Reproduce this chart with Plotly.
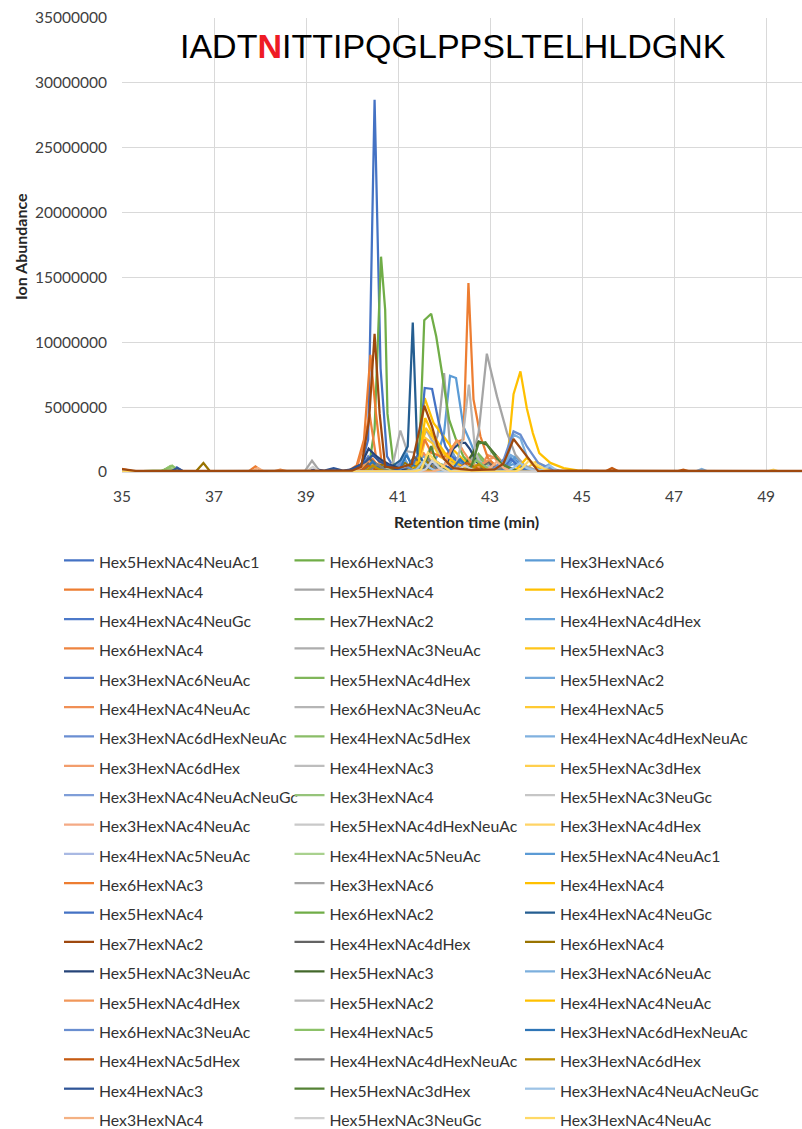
import plotly.graph_objects as go

# ---------------- legend labels (legend order, row by row) ----------------
NAMES = [
    "Hex5HexNAc4NeuAc1", "Hex6HexNAc3", "Hex3HexNAc6",
    "Hex4HexNAc4", "Hex5HexNAc4", "Hex6HexNAc2",
    "Hex4HexNAc4NeuGc", "Hex7HexNAc2", "Hex4HexNAc4dHex",
    "Hex6HexNAc4", "Hex5HexNAc3NeuAc", "Hex5HexNAc3",
    "Hex3HexNAc6NeuAc", "Hex5HexNAc4dHex", "Hex5HexNAc2",
    "Hex4HexNAc4NeuAc", "Hex6HexNAc3NeuAc", "Hex4HexNAc5",
    "Hex3HexNAc6dHexNeuAc", "Hex4HexNAc5dHex", "Hex4HexNAc4dHexNeuAc",
    "Hex3HexNAc6dHex", "Hex4HexNAc3", "Hex5HexNAc3dHex",
    "Hex3HexNAc4NeuAcNeuGc", "Hex3HexNAc4", "Hex5HexNAc3NeuGc",
    "Hex3HexNAc4NeuAc", "Hex5HexNAc4dHexNeuAc", "Hex3HexNAc4dHex",
    "Hex4HexNAc5NeuAc", "Hex4HexNAc5NeuAc", "Hex5HexNAc4NeuAc1",
    "Hex6HexNAc3", "Hex3HexNAc6", "Hex4HexNAc4",
    "Hex5HexNAc4", "Hex6HexNAc2", "Hex4HexNAc4NeuGc",
    "Hex7HexNAc2", "Hex4HexNAc4dHex", "Hex6HexNAc4",
    "Hex5HexNAc3NeuAc", "Hex5HexNAc3", "Hex3HexNAc6NeuAc",
    "Hex5HexNAc4dHex", "Hex5HexNAc2", "Hex4HexNAc4NeuAc",
    "Hex6HexNAc3NeuAc", "Hex4HexNAc5", "Hex3HexNAc6dHexNeuAc",
    "Hex4HexNAc5dHex", "Hex4HexNAc4dHexNeuAc", "Hex3HexNAc6dHex",
    "Hex4HexNAc3", "Hex5HexNAc3dHex", "Hex3HexNAc4NeuAcNeuGc",
    "Hex3HexNAc4", "Hex5HexNAc3NeuGc", "Hex3HexNAc4NeuAc",
]

COLORS = [
    "#4472C4", "#70AD47", "#5B9BD5",
    "#ED7D31", "#A5A5A5", "#FFC000",
    "#4C79C9", "#78B04E", "#66A2D9",
    "#EE8440", "#ADADAD", "#FFC51A",
    "#5781CD", "#80B65A", "#73A9DC",
    "#F08F55", "#B5B5B5", "#FFCA33",
    "#6A8ED2", "#8ABD67", "#80B1DF",
    "#F29D6C", "#BDBDBD", "#FFCF4D",
    "#7F9ED8", "#96C47A", "#C6C6C6",
    "#F4AA85", "#C9C9C9", "#FFD466",
    "#A9B9E3", "#A9D18E", "#5B9BD5",
    "#ED7D31", "#A5A5A5", "#FFC000",
    "#4472C4", "#70AD47", "#255E91",
    "#9E480E", "#636363", "#997300",
    "#264478", "#43682B", "#7CAFDD",
    "#F1975A", "#B7B7B7", "#FFC000",
    "#698ED0", "#8CC168", "#2E75B6",
    "#C55A11", "#7F7F7F", "#BF9000",
    "#2F5597", "#548235", "#9DC3E6",
    "#F4B183", "#D0D0D0", "#FFD966",
]

# ---------------- data: retention time (min) / ion abundance (millions) ----------------
rt_00 = [35, 36.05, 36.19, 36.33, 39.45, 39.6, 39.75, 40.05, 40.2, 40.35, 40.49, 40.62, 40.76, 40.9, 41.05, 41.9, 42.05, 42.2, 44.0, 49.78]
ab_00 = [0.05, 0.05, 0.36, 0.05, 0.05, 0.15, 0.05, 0.1, 0.5, 2.5, 28.7, 8.0, 1.2, 0.4, 0.15, 0.1, 0.3, 0.1, 0.05, 0.05]
rt_01 = [35, 35.9, 36.05, 36.2, 40.2, 40.37, 40.49, 40.63, 40.72, 40.77, 40.9, 41.1, 41.25, 49.78]
ab_01 = [0.02, 0.1, 0.45, 0.05, 0.05, 0.5, 3.3, 16.6, 12.5, 4.5, 0.6, 0.2, 0.03, 0.02]
rt_02 = [35, 39.8, 40.35, 40.5, 40.65, 40.9, 41.05, 41.18, 41.3, 41.45, 41.58, 41.72, 41.85, 42.0, 42.13, 42.26, 42.42, 42.55, 42.7, 42.85, 43.0, 43.2, 43.5, 43.8, 44.1, 44.4, 49.78]
ab_02 = [0.02, 0.05, 0.05, 0.3, 0.1, 0.1, 0.3, 1.5, 0.4, 0.3, 0.8, 0.6, 1.2, 3.0, 7.42, 7.25, 3.52, 2.49, 1.2, 0.5, 0.3, 0.2, 0.6, 0.2, 0.1, 0.03, 0.02]
rt_03 = [35, 35.25, 37.75, 37.9, 38.05, 38.3, 38.44, 38.6, 39.8, 39.95, 40.1, 40.26, 40.4, 40.52, 40.65, 40.9, 41.05, 41.35, 41.5, 41.65, 41.85, 42.0, 42.15, 42.35, 42.5, 42.65, 42.85, 43.0, 43.15, 49.78]
ab_03 = [0.25, 0.05, 0.05, 0.43, 0.05, 0.05, 0.18, 0.05, 0.05, 0.15, 0.5, 2.5, 9.04, 4.5, 0.5, 0.2, 0.05, 0.05, 0.3, 0.1, 0.1, 0.4, 0.1, 0.1, 0.3, 0.1, 0.05, 0.15, 0.03, 0.02]
rt_04 = [35, 38.98, 39.13, 39.28, 39.43, 41.4, 41.55, 41.72, 41.86, 42.0, 42.13, 42.28, 42.45, 42.6, 42.75, 49.78]
ab_04 = [0.02, 0.1, 0.87, 0.15, 0.03, 0.05, 0.5, 1.5, 2.8, 7.63, 2.0, 0.8, 0.4, 0.3, 0.05, 0.02]
rt_05 = [35, 42.95, 43.1, 43.37, 43.51, 43.66, 43.8, 43.93, 44.07, 44.31, 44.6, 44.9, 45.3, 45.5, 49.78]
ab_05 = [0.02, 0.05, 0.3, 0.7, 6.0, 7.76, 4.9, 3.0, 1.45, 0.7, 0.3, 0.12, 0.05, 0.03, 0.02]
rt_06 = [35, 40.0, 40.15, 40.3, 40.45, 40.6, 41.1, 41.25, 41.4, 41.55, 41.7, 42.35, 42.5, 42.65, 43.25, 43.4, 43.55, 43.7, 43.9, 44.05, 49.78]
ab_06 = [0.02, 0.03, 0.3, 1.0, 0.5, 0.1, 0.1, 0.3, 0.8, 0.5, 0.1, 0.1, 0.3, 0.1, 0.1, 1.0, 0.9, 0.4, 0.1, 0.03, 0.02]
rt_07 = [35, 35.85, 36.0, 36.15, 41.4, 41.55, 41.7, 41.85, 42.0, 49.78]
ab_07 = [0.02, 0.05, 0.3, 0.05, 0.03, 0.3, 0.9, 0.4, 0.03, 0.02]
rt_08 = [35, 40.85, 41.0, 41.12, 41.25, 41.4, 41.85, 42.0, 42.15, 42.3, 42.45, 43.05, 43.2, 43.37, 43.5, 43.7, 43.85, 49.78]
ab_08 = [0.02, 0.03, 0.3, 1.2, 0.3, 0.1, 0.1, 0.5, 1.6, 0.8, 0.2, 0.1, 0.3, 1.3, 1.0, 0.3, 0.03, 0.02]
rt_09 = [35, 39.95, 40.1, 40.25, 40.38, 40.52, 40.65, 40.8, 49.78]
ab_09 = [0.02, 0.03, 0.3, 2.0, 4.5, 1.2, 0.3, 0.03, 0.02]
rt_10 = [35, 40.75, 40.9, 41.05, 41.2, 41.35, 41.5, 41.62, 41.8, 42.0, 42.3, 42.45, 49.78]
ab_10 = [0.02, 0.03, 0.8, 3.2, 1.6, 1.5, 2.4, 3.2, 2.0, 1.0, 0.4, 0.03, 0.02]
rt_11 = [35, 41.3, 41.45, 41.6, 41.75, 41.9, 42.1, 42.3, 42.45, 49.78]
ab_11 = [0.02, 0.03, 0.8, 3.4, 2.7, 1.8, 1.0, 0.5, 0.03, 0.02]
rt_12 = [35, 40.05, 40.2, 40.35, 40.5, 40.65, 41.95, 42.1, 42.25, 42.4, 42.55, 49.78]
ab_12 = [0.02, 0.03, 0.4, 1.2, 0.6, 0.03, 0.03, 0.4, 1.1, 0.7, 0.03, 0.02]
rt_13 = [35, 40.15, 40.3, 40.45, 40.6, 40.75, 42.45, 42.6, 42.75, 42.9, 43.05, 49.78]
ab_13 = [0.02, 0.03, 0.3, 0.9, 0.4, 0.03, 0.03, 0.5, 1.4, 0.8, 0.03, 0.02]
rt_14 = [35, 41.25, 41.4, 41.55, 41.7, 41.85, 43.15, 43.3, 43.45, 43.6, 43.75, 44.0, 44.15, 44.27, 44.4, 44.55, 49.78]
ab_14 = [0.02, 0.03, 0.3, 1.3, 0.7, 0.03, 0.03, 0.4, 1.3, 1.0, 0.3, 0.1, 0.2, 0.56, 0.1, 0.03, 0.02]
rt_15 = [35, 41.25, 41.4, 41.55, 41.7, 41.85, 42.65, 42.8, 42.95, 43.1, 43.25, 43.4, 49.78]
ab_15 = [0.02, 0.03, 0.3, 1.5, 0.7, 0.03, 0.03, 0.4, 1.3, 1.1, 0.4, 0.03, 0.02]
rt_16 = [35, 41.35, 41.5, 41.65, 41.8, 41.95, 42.2, 42.35, 49.78]
ab_16 = [0.02, 0.03, 0.4, 1.0, 2.4, 1.2, 0.5, 0.03, 0.02]
rt_17 = [35, 41.3, 41.45, 41.6, 41.75, 41.9, 42.2, 42.35, 43.65, 43.8, 44.0, 44.2, 44.35, 49.78]
ab_17 = [0.02, 0.03, 0.5, 2.6, 2.2, 1.2, 0.6, 0.03, 0.03, 0.3, 0.8, 0.4, 0.03, 0.02]
rt_18 = [35, 40.75, 40.9, 41.05, 41.2, 41.35, 42.15, 42.3, 42.45, 42.6, 42.75, 49.78]
ab_18 = [0.02, 0.03, 0.2, 0.7, 0.3, 0.03, 0.03, 0.3, 0.9, 0.4, 0.03, 0.02]
rt_19 = [35, 42.3, 42.45, 42.6, 42.75, 42.9, 43.05, 49.78]
ab_19 = [0.02, 0.03, 0.2, 0.8, 1.2, 0.6, 0.03, 0.02]
rt_20 = [35, 41.45, 41.6, 41.75, 41.9, 42.05, 42.75, 42.9, 43.05, 43.2, 43.35, 49.78]
ab_20 = [0.02, 0.03, 0.2, 0.8, 0.4, 0.03, 0.03, 0.3, 0.7, 0.3, 0.03, 0.02]
rt_21 = [35, 42.35, 42.5, 42.65, 42.8, 43.0, 43.15, 43.3, 49.78]
ab_21 = [0.02, 0.03, 0.3, 1.0, 0.6, 0.9, 0.4, 0.03, 0.02]
rt_22 = [35, 41.05, 41.2, 41.35, 41.5, 41.65, 42.55, 42.7, 42.85, 43.0, 43.15, 49.78]
ab_22 = [0.02, 0.03, 0.2, 0.6, 0.3, 0.03, 0.03, 0.3, 0.6, 0.3, 0.03, 0.02]
rt_23 = [35, 41.35, 41.5, 41.65, 41.8, 41.95, 42.95, 43.1, 43.25, 43.4, 43.55, 49.78]
ab_23 = [0.02, 0.03, 0.3, 1.2, 0.6, 0.03, 0.03, 0.2, 0.5, 0.2, 0.03, 0.02]
rt_24 = [35, 40.25, 40.4, 40.55, 40.7, 40.85, 42.05, 42.2, 42.35, 42.5, 42.65, 49.78]
ab_24 = [0.02, 0.03, 0.2, 0.5, 0.2, 0.03, 0.03, 0.3, 0.5, 0.2, 0.03, 0.02]
rt_25 = [35, 35.85, 36.0, 36.15, 41.65, 41.8, 41.95, 42.1, 42.25, 49.78]
ab_25 = [0.02, 0.05, 0.3, 0.05, 0.03, 0.2, 0.6, 0.3, 0.03, 0.02]
rt_26 = [35, 41.85, 42.0, 42.15, 42.3, 42.45, 49.78]
ab_26 = [0.02, 0.03, 0.2, 0.5, 0.3, 0.03, 0.02]
rt_27 = [35, 42.75, 42.9, 43.05, 43.2, 43.35, 49.78]
ab_27 = [0.02, 0.03, 0.2, 0.5, 0.3, 0.03, 0.02]
rt_28 = [35, 40.95, 41.1, 41.25, 41.4, 41.55, 49.78]
ab_28 = [0.02, 0.03, 0.2, 0.5, 0.2, 0.03, 0.02]
rt_29 = [35, 42.15, 42.3, 42.45, 42.6, 42.75, 49.78]
ab_29 = [0.02, 0.03, 0.2, 0.6, 0.2, 0.03, 0.02]
rt_30 = [35, 43.05, 43.2, 43.35, 43.5, 43.65, 49.78]
ab_30 = [0.02, 0.03, 0.2, 0.4, 0.2, 0.03, 0.02]
rt_31 = [35, 35.9, 36.05, 36.2, 40.3, 40.45, 40.6, 40.75, 40.9, 49.78]
ab_31 = [0.02, 0.05, 0.45, 0.05, 0.03, 0.2, 0.4, 0.2, 0.03, 0.02]
rt_32 = [35, 41.3, 41.45, 41.6, 41.75, 41.9, 43.25, 43.4, 43.55, 43.7, 43.85, 49.78]
ab_32 = [0.02, 0.03, 0.3, 1.0, 0.5, 0.03, 0.03, 0.5, 1.2, 0.6, 0.03, 0.02]
rt_33 = [35, 40.15, 40.3, 40.45, 40.6, 40.75, 41.25, 41.4, 41.58, 41.72, 42.0, 42.26, 42.42, 42.53, 42.64, 42.79, 42.95, 43.1, 43.4, 43.7, 44.0, 49.78]
ab_33 = [0.02, 0.03, 0.3, 1.0, 0.3, 0.03, 0.03, 0.6, 2.5, 1.5, 1.1, 2.3, 2.5, 14.57, 5.6, 2.75, 1.1, 0.5, 0.3, 0.1, 0.03, 0.02]
rt_34 = [35, 42.15, 42.3, 42.6, 42.75, 42.93, 43.15, 43.37, 43.55, 43.75, 44.0, 44.2, 49.78]
ab_34 = [0.02, 0.03, 0.3, 1.0, 3.0, 9.12, 5.83, 3.0, 1.33, 0.5, 0.15, 0.03, 0.02]
rt_35 = [35, 41.05, 41.2, 41.43, 41.58, 41.77, 41.99, 42.2, 42.42, 42.6, 43.0, 43.2, 49.78]
ab_35 = [0.02, 0.03, 0.2, 1.0, 5.7, 3.78, 2.74, 1.72, 0.95, 0.4, 0.2, 0.03, 0.02]
rt_36 = [35, 40.15, 40.3, 40.45, 40.6, 40.75, 41.15, 41.3, 41.45, 41.58, 41.74, 41.88, 42.03, 42.17, 42.35, 42.6, 42.8, 43.15, 43.3, 43.45, 43.6, 43.8, 44.0, 49.78]
ab_36 = [0.02, 0.03, 0.3, 0.8, 0.3, 0.03, 0.05, 0.4, 1.5, 6.48, 6.4, 3.9, 1.97, 1.2, 0.6, 0.3, 0.05, 0.05, 0.3, 1.0, 0.5, 0.1, 0.03, 0.02]
rt_37 = [35, 40.35, 40.5, 40.65, 41.15, 41.3, 41.45, 41.57, 41.72, 41.83, 41.99, 42.11, 42.26, 42.42, 42.6, 43.0, 43.2, 49.78]
ab_37 = [0.02, 0.03, 0.2, 0.03, 0.03, 0.2, 0.3, 11.7, 12.2, 10.45, 6.86, 4.03, 2.49, 1.2, 0.5, 0.3, 0.03, 0.02]
rt_38 = [35, 39.35, 39.5, 39.65, 40.05, 40.2, 40.4, 40.6, 40.9, 41.05, 41.21, 41.32, 41.42, 41.6, 42.0, 42.2, 49.78]
ab_38 = [0.02, 0.03, 0.15, 0.03, 0.03, 0.2, 0.6, 0.3, 0.5, 0.9, 1.97, 11.53, 1.46, 0.5, 0.3, 0.03, 0.02]
rt_39 = [35, 35.3, 40.0, 40.2, 40.37, 40.49, 40.6, 40.72, 41.0, 41.3, 41.45, 41.57, 41.74, 41.86, 42.0, 42.2, 42.6, 43.1, 43.29, 43.51, 43.8, 44.05, 44.3, 49.78]
ab_39 = [0.23, 0.08, 0.1, 0.4, 4.0, 10.66, 4.5, 0.4, 0.3, 0.6, 3.0, 5.11, 3.5, 1.97, 1.0, 0.3, 0.15, 0.2, 0.64, 2.54, 1.2, 0.05, 0.1, 0.08]
rt_40 = [35, 40.1, 40.25, 40.4, 40.55, 40.7, 41.05, 41.2, 41.35, 41.5, 41.7, 41.85, 42.65, 42.8, 42.95, 43.1, 43.25, 49.78]
ab_40 = [0.02, 0.03, 0.2, 1.0, 0.4, 0.03, 0.03, 0.3, 1.2, 0.6, 0.3, 0.03, 0.03, 0.2, 0.8, 0.3, 0.03, 0.02]
rt_41 = [35, 36.6, 36.77, 36.92, 40.05, 40.2, 40.35, 40.5, 40.7, 40.85, 41.0, 41.15, 41.3, 41.45, 41.6, 41.75, 41.9, 49.78]
ab_41 = [0.02, 0.02, 0.69, 0.02, 0.03, 0.1, 1.0, 0.4, 0.6, 0.3, 0.1, 0.7, 0.3, 0.1, 0.9, 0.4, 0.03, 0.02]
rt_42 = [35, 39.9, 40.2, 40.36, 40.5, 40.65, 40.8, 41.0, 41.2, 41.65, 41.8, 42.05, 42.2, 42.35, 42.46, 42.57, 42.7, 42.85, 43.0, 49.78]
ab_42 = [0.02, 0.05, 0.6, 1.8, 1.3, 0.9, 0.6, 0.3, 0.05, 0.05, 0.2, 0.6, 1.8, 2.24, 2.24, 1.72, 0.8, 0.3, 0.03, 0.02]
rt_43 = [35, 42.25, 42.4, 42.6, 42.75, 42.93, 43.15, 43.35, 43.6, 43.8, 49.78]
ab_43 = [0.02, 0.03, 0.3, 1.3, 2.36, 2.1, 1.2, 0.4, 0.15, 0.03, 0.02]
rt_44 = [35, 40.35, 40.5, 40.65, 41.45, 41.6, 41.75, 41.9, 42.05, 43.05, 43.2, 43.37, 43.51, 43.66, 43.8, 43.95, 44.1, 44.27, 44.4, 44.55, 47.45, 47.6, 47.75, 49.78]
ab_44 = [0.02, 0.03, 0.1, 0.03, 0.03, 0.3, 0.8, 0.3, 0.03, 0.03, 0.3, 0.9, 2.9, 2.6, 1.2, 0.5, 0.25, 0.56, 0.15, 0.03, 0.02, 0.23, 0.02, 0.02]
rt_45 = [35, 40.05, 40.2, 40.35, 40.5, 40.65, 41.85, 42.0, 42.13, 42.28, 42.42, 42.57, 42.75, 43.0, 43.15, 43.3, 43.45, 49.78]
ab_45 = [0.02, 0.03, 0.3, 0.9, 0.3, 0.03, 0.03, 0.4, 1.5, 2.49, 1.6, 0.8, 0.4, 1.0, 1.2, 0.5, 0.03, 0.02]
rt_46 = [35, 40.35, 40.5, 40.65, 42.1, 42.25, 42.4, 42.54, 42.68, 42.82, 43.1, 43.25, 49.78]
ab_46 = [0.02, 0.03, 0.2, 0.03, 0.03, 0.4, 2.5, 6.73, 1.5, 0.5, 0.2, 0.03, 0.02]
rt_47 = [35, 41.15, 41.3, 41.45, 41.59, 41.74, 41.9, 42.05, 42.25, 42.5, 42.65, 43.45, 43.6, 43.8, 43.95, 44.2, 44.35, 49.78]
ab_47 = [0.02, 0.03, 0.2, 0.8, 4.16, 3.0, 2.1, 1.3, 0.7, 0.3, 0.03, 0.03, 0.3, 1.1, 0.5, 0.2, 0.03, 0.02]
rt_48 = [35, 40.85, 41.0, 41.15, 41.3, 41.45, 42.95, 43.1, 43.3, 43.51, 43.66, 43.8, 44.05, 44.3, 44.5, 44.7, 49.78]
ab_48 = [0.02, 0.03, 0.1, 0.5, 0.2, 0.03, 0.03, 0.3, 1.0, 3.13, 2.88, 1.97, 0.69, 0.3, 0.1, 0.03, 0.02]
rt_49 = [35, 35.9, 36.09, 36.25, 40.25, 40.4, 40.55, 40.7, 40.85, 42.4, 42.55, 42.7, 42.85, 43.0, 43.15, 49.78]
ab_49 = [0.02, 0.1, 0.49, 0.05, 0.03, 0.2, 0.6, 0.2, 0.03, 0.03, 0.3, 0.9, 0.5, 0.2, 0.03, 0.02]
rt_50 = [35, 40.15, 40.3, 40.45, 40.6, 40.75, 40.9, 41.05, 41.18, 41.3, 41.45, 41.6, 42.05, 42.2, 42.35, 42.5, 42.65, 49.78]
ab_50 = [0.02, 0.03, 0.3, 0.8, 0.3, 0.03, 0.03, 0.3, 1.3, 0.6, 0.3, 0.03, 0.03, 0.3, 1.0, 0.4, 0.03, 0.02]
rt_51 = [35, 35.2, 40.05, 40.2, 40.35, 40.5, 40.65, 42.15, 42.3, 42.5, 42.7, 42.85, 45.5, 45.65, 45.8, 47.05, 47.2, 47.35, 49.78]
ab_51 = [0.15, 0.05, 0.05, 0.1, 0.5, 0.2, 0.05, 0.05, 0.2, 0.7, 0.3, 0.05, 0.03, 0.31, 0.03, 0.03, 0.18, 0.03, 0.02]
rt_52 = [35, 40.25, 40.4, 40.55, 40.7, 40.85, 41.35, 41.5, 41.65, 41.8, 41.95, 43.05, 43.2, 43.35, 43.5, 43.65, 49.78]
ab_52 = [0.02, 0.03, 0.2, 0.6, 0.2, 0.03, 0.03, 0.2, 1.1, 0.3, 0.03, 0.03, 0.2, 0.5, 0.2, 0.03, 0.02]
rt_53 = [35, 40.15, 40.3, 40.45, 40.6, 40.75, 41.15, 41.3, 41.45, 41.6, 41.75, 42.45, 42.6, 42.75, 42.9, 43.05, 49.78]
ab_53 = [0.02, 0.03, 0.1, 0.5, 0.2, 0.03, 0.03, 0.1, 0.6, 0.2, 0.03, 0.03, 0.2, 0.6, 0.2, 0.03, 0.02]
rt_54 = [35, 36.05, 36.2, 36.35, 38.85, 39.0, 39.2, 39.4, 39.6, 39.8, 40.0, 40.3, 40.45, 40.6, 40.8, 41.0, 41.45, 41.6, 41.8, 41.95, 42.2, 42.35, 49.78]
ab_54 = [0.02, 0.02, 0.3, 0.02, 0.03, 0.05, 0.2, 0.1, 0.3, 0.1, 0.2, 0.8, 1.3, 0.8, 0.5, 0.1, 0.05, 0.3, 0.9, 0.5, 0.3, 0.03, 0.02]
rt_55 = [35, 41.35, 41.5, 41.62, 41.72, 41.85, 42.0, 42.15, 42.45, 42.6, 42.75, 42.9, 43.05, 43.25, 43.5, 43.65, 49.78]
ab_55 = [0.02, 0.03, 0.2, 1.0, 2.0, 0.5, 0.2, 0.03, 0.03, 0.5, 2.2, 2.3, 1.5, 0.6, 0.2, 0.03, 0.02]
rt_56 = [35, 41.25, 41.4, 41.55, 41.7, 41.85, 43.35, 43.5, 43.65, 43.8, 44.0, 44.15, 44.3, 44.45, 44.6, 49.78]
ab_56 = [0.02, 0.03, 0.2, 0.8, 0.3, 0.03, 0.03, 0.3, 0.7, 0.3, 0.05, 0.2, 0.5, 0.1, 0.03, 0.02]
rt_57 = [35, 37.8, 37.95, 38.1, 41.75, 41.9, 42.05, 42.2, 42.35, 42.85, 43.0, 43.15, 43.3, 43.45, 44.95, 45.1, 45.25, 49.78]
ab_57 = [0.02, 0.02, 0.3, 0.02, 0.03, 0.2, 0.7, 0.3, 0.03, 0.03, 0.3, 0.8, 0.3, 0.03, 0.03, 0.12, 0.03, 0.02]
rt_58 = [35, 39.0, 39.15, 39.3, 41.45, 41.6, 41.75, 41.9, 42.05, 42.15, 42.3, 42.45, 42.6, 42.75, 49.78]
ab_58 = [0.02, 0.05, 0.4, 0.05, 0.03, 0.2, 0.9, 0.3, 0.03, 0.03, 0.2, 0.5, 0.2, 0.03, 0.02]
rt_59 = [35, 41.35, 41.5, 41.65, 41.8, 42.0, 42.15, 43.55, 43.7, 43.85, 44.0, 44.2, 44.35, 49.0, 49.16, 49.3, 49.78]
ab_59 = [0.02, 0.03, 0.2, 1.5, 0.9, 0.4, 0.03, 0.03, 0.3, 0.9, 0.6, 0.2, 0.03, 0.02, 0.18, 0.02, 0.02]

RT = [rt_00, rt_01, rt_02, rt_03, rt_04, rt_05, rt_06, rt_07, rt_08, rt_09,
      rt_10, rt_11, rt_12, rt_13, rt_14, rt_15, rt_16, rt_17, rt_18, rt_19,
      rt_20, rt_21, rt_22, rt_23, rt_24, rt_25, rt_26, rt_27, rt_28, rt_29,
      rt_30, rt_31, rt_32, rt_33, rt_34, rt_35, rt_36, rt_37, rt_38, rt_39,
      rt_40, rt_41, rt_42, rt_43, rt_44, rt_45, rt_46, rt_47, rt_48, rt_49,
      rt_50, rt_51, rt_52, rt_53, rt_54, rt_55, rt_56, rt_57, rt_58, rt_59]
AB = [ab_00, ab_01, ab_02, ab_03, ab_04, ab_05, ab_06, ab_07, ab_08, ab_09,
      ab_10, ab_11, ab_12, ab_13, ab_14, ab_15, ab_16, ab_17, ab_18, ab_19,
      ab_20, ab_21, ab_22, ab_23, ab_24, ab_25, ab_26, ab_27, ab_28, ab_29,
      ab_30, ab_31, ab_32, ab_33, ab_34, ab_35, ab_36, ab_37, ab_38, ab_39,
      ab_40, ab_41, ab_42, ab_43, ab_44, ab_45, ab_46, ab_47, ab_48, ab_49,
      ab_50, ab_51, ab_52, ab_53, ab_54, ab_55, ab_56, ab_57, ab_58, ab_59]

X_TICKS = [35, 37, 39, 41, 43, 45, 47, 49]
Y_TICKS = [0, 5000000, 10000000, 15000000, 20000000, 25000000, 30000000, 35000000]

# ---------------- figure ----------------
W, H = 802, 1129
M_L, M_R, M_T, M_B = 122, 0, 18, 657
PW, PH = W - M_L - M_R, H - M_T - M_B

def px_to_paper_x(px):
    return (px - M_L) / PW

def px_to_paper_y(py):
    return (H - M_B - py) / PH

# legend grid: 3 columns x 20 rows, split into 6 vertical legends (column x half)
COL_LEFT_PX = [59, 289.5, 520]
HALF_TOP_PX = [540.7, 834.2]

def legend_id(i):
    row, col = divmod(i, 3)
    n = (0 if row < 10 else 3) + col + 1
    return "legend" if n == 1 else "legend%d" % n

draw_order = [i for i in range(60) if i != 39] + [39]

fig = go.Figure()
for i in draw_order:
    fig.add_trace(go.Scatter(
        x=RT[i],
        y=[v * 1e6 for v in AB[i]],
        mode="lines",
        name='<span style="font-size:15.8px">' + NAMES[i] + "</span>",
        line=dict(color=COLORS[i], width=2.25),
        legend=legend_id(i),
        legendrank=i + 1,
    ))

TICK_FONT = dict(family="Lato, Open Sans, sans-serif", size=15.5, color="#404040")

legends = {}
for half in range(2):
    for col in range(3):
        n = half * 3 + col + 1
        key = "legend" if n == 1 else "legend%d" % n
        legends[key] = dict(
            orientation="v", xanchor="left", yanchor="top",
            x=px_to_paper_x(COL_LEFT_PX[col]), y=px_to_paper_y(HALF_TOP_PX[half]),
            font=dict(family="Lato, Open Sans, sans-serif", size=20.27, color="#333333"),
            bgcolor="rgba(0,0,0,0)", itemwidth=30, traceorder="normal",
            tracegroupgap=0,
        )

fig.update_layout(
    width=W, height=H,
    margin=dict(l=M_L, r=M_R, t=M_T, b=M_B, autoexpand=False),
    paper_bgcolor="white", plot_bgcolor="white",
    font=dict(family="Lato, Open Sans, sans-serif", color="#404040"),
    showlegend=True,
    xaxis=dict(
        range=[35, 49.78], tickvals=X_TICKS, ticktext=[str(v) for v in X_TICKS],
        showgrid=True, gridcolor="#D9D9D9", gridwidth=1,
        showline=True, linecolor="#D9D9D9", linewidth=1,
        zeroline=False, ticks="", tickfont=TICK_FONT, ticklabelstandoff=10,
    ),
    yaxis=dict(
        range=[0, 35000000], tickvals=Y_TICKS, ticktext=[str(v) for v in Y_TICKS],
        showgrid=True, gridcolor="#D9D9D9", gridwidth=1,
        showline=False, zeroline=False, ticks="", tickfont=TICK_FONT,
        ticklabelstandoff=14,
    ),
    annotations=[
        dict(text='IADT<span style="color:#EE1C25"><b>N</b></span>ITTIPQGLPPSLTELHLDGNK',
             xref="paper", yref="paper", x=px_to_paper_x(453), y=px_to_paper_y(46.3),
             xanchor="center", yanchor="middle", showarrow=False,
             font=dict(family="Liberation Sans, Arial, sans-serif", size=34, color="#000000")),
        dict(text="<b>Ion Abundance</b>", textangle=-90,
             xref="paper", yref="paper", x=px_to_paper_x(20), y=px_to_paper_y(247),
             xanchor="center", yanchor="middle", showarrow=False,
             font=dict(family="Lato, Open Sans, sans-serif", size=16, color="#262626")),
        dict(text="<b>Retention time (min)</b>",
             xref="paper", yref="paper", x=px_to_paper_x(466.5), y=px_to_paper_y(521.7),
             xanchor="center", yanchor="middle", showarrow=False,
             font=dict(family="Lato, Open Sans, sans-serif", size=16, color="#262626")),
    ],
    **legends,
)

fig.write_html(
    "out.html",
    config={"displayModeBar": False},
    post_script="document.body.style.margin='0';document.body.style.padding='0';",
)
